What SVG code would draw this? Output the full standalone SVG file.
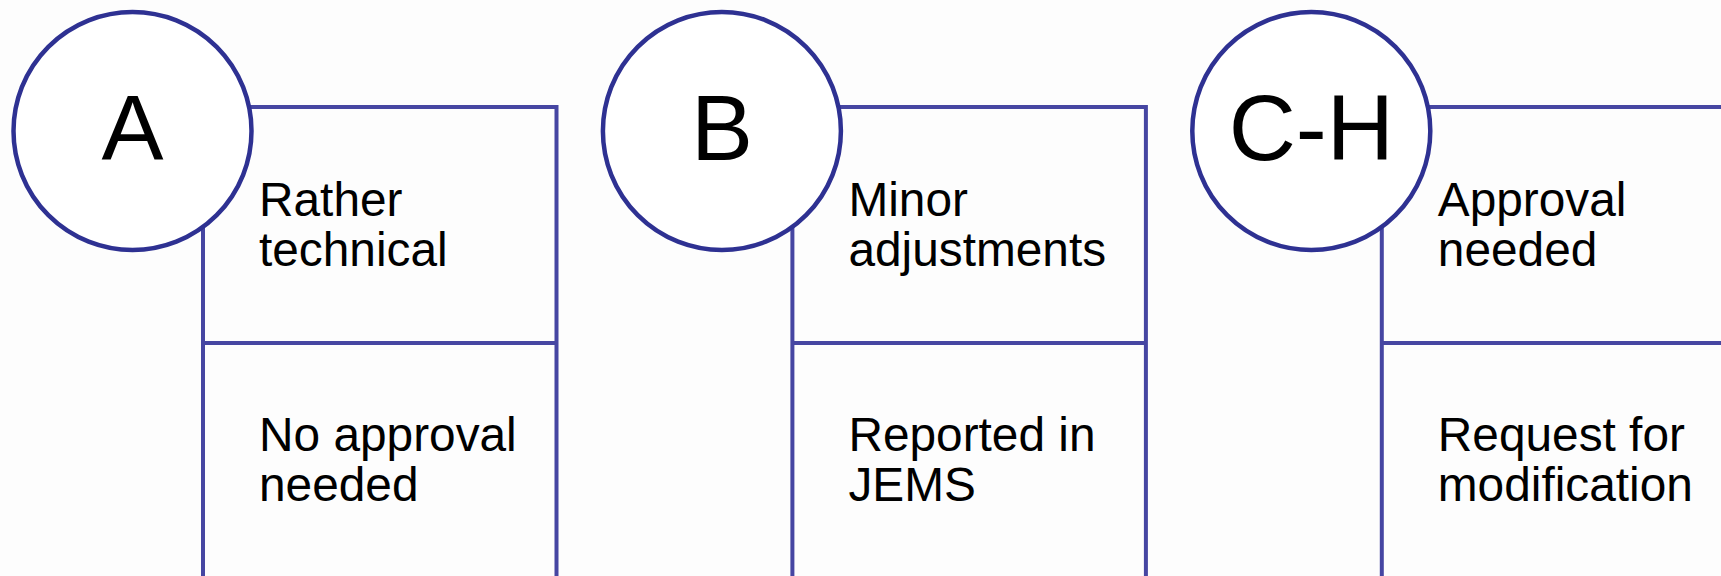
<svg xmlns="http://www.w3.org/2000/svg" width="1721" height="576" viewBox="0 0 1721 576">
<style>
.box{fill:none;stroke:#4646a2;stroke-width:4}
.circ{fill:#ffffff;stroke:#2e3192;stroke-width:4.5}
.big{font-family:"Liberation Sans",Arial,sans-serif;font-size:93px;fill:#000;text-anchor:middle}
.txt{font-family:"Liberation Sans",Arial,sans-serif;font-size:47.8px;fill:#000}
</style>
<rect width="1721" height="576" fill="#fdfdfd"/>
<g id="connectors"></g>
<g id="panel-A">
<path class="box" d="M203 600 V107 H556.5 V600 M203 343 H556.5"/>
<circle class="circ" cx="132.5" cy="131" r="119"/>
<text class="big" x="132.5" y="160">A</text>
<text class="txt" x="259" y="215.5">Rather</text>
<text class="txt" x="259" y="265.5">technical</text>
<text class="txt" x="259" y="450.5">No approval</text>
<text class="txt" x="259" y="500.5">needed</text>
</g>
<g id="panel-B" transform="translate(589.4 0)">
<path class="box" d="M203 600 V107 H556.5 V600 M203 343 H556.5"/>
<circle class="circ" cx="132.5" cy="131" r="119"/>
<text class="big" x="132.5" y="160">B</text>
<text class="txt" x="259" y="215.5">Minor</text>
<text class="txt" x="259" y="265.5">adjustments</text>
<text class="txt" x="259" y="450.5">Reported in</text>
<text class="txt" x="259" y="500.5">JEMS</text>
</g>
<g id="panel-CH" transform="translate(1178.8 0)">
<path class="box" d="M203 600 V107 H556.5 V600 M203 343 H556.5"/>
<circle class="circ" cx="132.5" cy="131" r="119"/>
<text class="big" x="132.5" y="160">C-H</text>
<text class="txt" x="259" y="215.5">Approval</text>
<text class="txt" x="259" y="265.5">needed</text>
<text class="txt" x="259" y="450.5">Request for</text>
<text class="txt" x="259" y="500.5">modification</text>
</g>
</svg>
